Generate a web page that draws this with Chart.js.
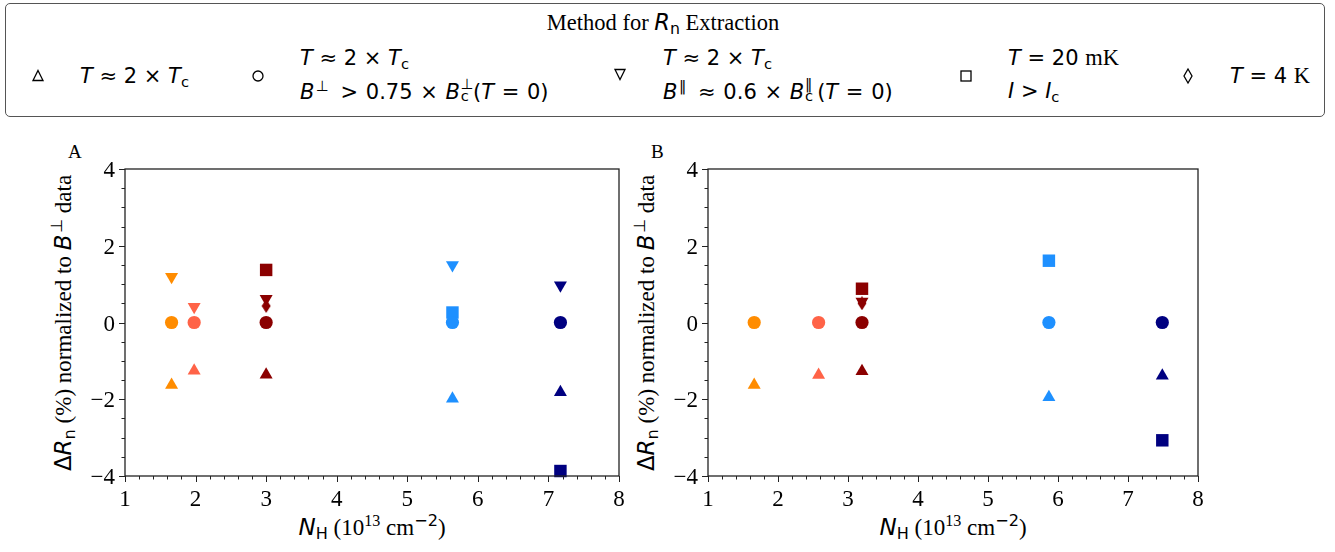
<!DOCTYPE html>
<html>
<head>
<meta charset="utf-8">
<script src="https://cdn.jsdelivr.net/npm/chart.js@4.4.1/dist/chart.umd.min.js"></script>
<style>
  body { margin: 0; background: #fff; }
  #wrap { position: relative; width: 1335px; height: 552px; background: #fff; overflow: hidden; }
  canvas { position: absolute; }
  .serif { font-family: 'Liberation Serif', serif; }
  .m { font-family: 'DejaVu Sans', sans-serif; }
  .m i, i.m { font-style: italic; }
  .lbl { position: absolute; white-space: nowrap; color: #000; }
  .tick { position: absolute; white-space: nowrap; color: #000; font-family: 'Liberation Serif', serif;
          font-size: 23px; line-height: 1; }
  sub, sup { font-size: 70%; line-height: 0; }
  sub { vertical-align: -0.3em; }
  sup { vertical-align: 0.55em; }
  .stack { display: inline-block; position: relative; width: 0.62em; height: 1em; vertical-align: baseline; }
  .stack span { position: absolute; left: 0.05em; font-size: 70%; line-height: 1; }
  .stack .up { bottom: 0.5em; }
  .stack .dn { bottom: -0.32em; }
  #legend { position: absolute; left: 5px; top: 3px; width: 1318px; height: 112px;
            border: 1.3px solid #555; border-radius: 5px; }
  .mk { position: absolute; }
</style>
</head>
<body>
<div id="wrap">
  <div id="legend"></div>
  <div class="lbl serif" style="left:663px; top:22px; transform:translate(-50%,-50%); font-size:22.5px;">
    Method for <span class="m"><i>R</i><sub>n</sub></span> Extraction
  </div>

  <svg class="mk" style="left:30px; top:68px" width="16" height="16"><polygon points="8,2.5 13,12.5 3,12.5" fill="none" stroke="#000" stroke-width="1.3"/></svg>
  <div class="lbl m" style="left:80px; top:76px; transform:translateY(-50%); font-size:21px;"><i>T</i> ≈ 2 × <i>T</i><sub>c</sub></div>

  <svg class="mk" style="left:250px; top:68px" width="16" height="16"><circle cx="8" cy="8" r="5" fill="none" stroke="#000" stroke-width="1.3"/></svg>
  <div class="lbl m" style="left:300px; top:58px; transform:translateY(-50%); font-size:21px;"><i>T</i> ≈ 2 × <i>T</i><sub>c</sub></div>
  <div class="lbl m" style="left:300px; top:91px; transform:translateY(-50%); font-size:21px; word-spacing:1px;"><i>B</i><sup>&#8202;⊥</sup>&#8201; &gt; 0.75 × <i>B</i><span class="stack"><span class="up">⊥</span><span class="dn">c</span></span>(<i>T</i> = 0)</div>

  <svg class="mk" style="left:612px; top:66px" width="16" height="16"><polygon points="3,3.5 13,3.5 8,13.5" fill="none" stroke="#000" stroke-width="1.3"/></svg>
  <div class="lbl m" style="left:663px; top:58px; transform:translateY(-50%); font-size:21px;"><i>T</i> ≈ 2 × <i>T</i><sub>c</sub></div>
  <div class="lbl m" style="left:663px; top:91px; transform:translateY(-50%); font-size:21px; word-spacing:1px;"><i>B</i><sup>&#8202;‖</sup>&#8201; ≈ 0.6 × <i>B</i><span class="stack"><span class="up">‖</span><span class="dn">c</span></span>(<i>T</i> = 0)</div>

  <svg class="mk" style="left:958px; top:68px" width="16" height="16"><rect x="3" y="3" width="10" height="10" fill="none" stroke="#000" stroke-width="1.3"/></svg>
  <div class="lbl m" style="left:1008px; top:58px; transform:translateY(-50%); font-size:21px;"><i>T</i> = 20 <span class="serif" style="font-size:22.5px">mK</span></div>
  <div class="lbl m" style="left:1008px; top:91px; transform:translateY(-50%); font-size:21px;"><i>I</i> &gt; <i>I</i><sub>c</sub></div>

  <svg class="mk" style="left:1180px; top:67px" width="16" height="18"><polygon points="8,2 12,9 8,16 4,9" fill="none" stroke="#000" stroke-width="1.3"/></svg>
  <div class="lbl m" style="left:1230px; top:76px; transform:translateY(-50%); font-size:21px;"><i>T</i> = 4 <span class="serif" style="font-size:22.5px">K</span></div>

  <div class="lbl serif" style="left:68px; top:141px; font-size:19px;">A</div>
  <div class="lbl serif" style="left:651px; top:141px; font-size:19px;">B</div>

  <div class="lbl serif" style="left:63px; top:323px; transform:translate(-50%,-50%) rotate(-90deg); font-size:23px;">
    <span class="m">Δ<i>R</i><sub>n</sub></span> (%) normalized to <span class="m"><i>B</i><sup>&#8202;⊥</sup></span> data
  </div>
  <div class="lbl serif" style="left:646px; top:323px; transform:translate(-50%,-50%) rotate(-90deg); font-size:23px;">
    <span class="m">Δ<i>R</i><sub>n</sub></span> (%) normalized to <span class="m"><i>B</i><sup>&#8202;⊥</sup></span> data
  </div>

  <div class="lbl serif" style="left:372px; top:527px; transform:translate(-50%,-50%); font-size:23px;">
    <span class="m"><i>N</i><sub>H</sub></span> (10<sup>13</sup> cm<sup class="m">−2</sup>)
  </div>
  <div class="lbl serif" style="left:953px; top:527px; transform:translate(-50%,-50%); font-size:23px;">
    <span class="m"><i>N</i><sub>H</sub></span> (10<sup>13</sup> cm<sup class="m">−2</sup>)
  </div>

  <canvas id="chartA" width="640" height="422" style="left:0px; top:130px"></canvas>
  <canvas id="chartB" width="695" height="422" style="left:640px; top:130px"></canvas>
</div>

<script>
// sample colours (same order in both panels)
const colours = ['#FF8C00', '#FF6347', '#8B0000', '#1E90FF', '#000080'];

// panel A
const nhA = [1.66, 1.98, 3.0, 5.64, 7.17];
const upA = [-1.63, -1.26, -1.36, -1.99, -1.82];
const circleA = [0, 0, 0, 0, 0];
const downA = [1.19, 0.41, 0.62, 1.5, 0.97];
const squareA = [null, null, 1.37, 0.26, -3.87];
const diamondA = [null, null, 0.43, null, null];

// panel B
const nhB = [1.66, 2.58, 3.2, 5.87, 7.49];
const upB = [-1.63, -1.37, -1.27, -1.95, -1.39];
const circleB = [0, 0, 0, 0, 0];
const downB = [null, null, 0.55, null, null];
const squareB = [null, null, 0.88, 1.61, -3.07];
const diamondB = [null, null, 0.5, null, null];

const xTicks = [1, 2, 3, 4, 5, 6, 7, 8];
const yTicks = [-4, -2, 0, 2, 4];

// thin diamond marker like matplotlib 'd'
function thinDiamond(color) {
  const c = document.createElement('canvas');
  c.width = 10; c.height = 14;
  const g = c.getContext('2d');
  g.fillStyle = color;
  g.beginPath();
  g.moveTo(5, 0); g.lineTo(9.5, 7); g.lineTo(5, 14); g.lineTo(0.5, 7);
  g.closePath();
  g.fill();
  return c;
}

function makeSet(nh, vals, style, radius, rotation) {
  const pts = [];
  const cols = [];
  vals.forEach((v, i) => {
    if (v === null) return;
    pts.push({x: nh[i], y: v});
    cols.push(colours[i]);
  });
  return {
    data: pts,
    pointStyle: style === 'diamond' ? cols.map(c => thinDiamond(c)) : style,
    pointRadius: radius,
    pointRotation: rotation || 0,
    pointBackgroundColor: cols,
    pointBorderColor: cols,
    pointBorderWidth: 0,
    showLine: false,
    clip: false
  };
}

// box plus major/minor tick marks, placed through the chart's scales
const frame = {
  id: 'frame',
  afterDraw(chart) {
    const {ctx, chartArea: a, scales: {x, y}} = chart;
    ctx.save();
    ctx.strokeStyle = '#222';
    ctx.lineWidth = 1.3;
    ctx.strokeRect(a.left, a.top, a.right - a.left, a.bottom - a.top);
    ctx.lineWidth = 1;
    ctx.beginPath();
    for (let i = 0; i <= 35; i++) {
      const px = Math.round(x.getPixelForValue(1 + i * 0.2)) + 0.5;
      const len = i % 5 === 0 ? 6 : 3.5;
      ctx.moveTo(px, a.bottom);
      ctx.lineTo(px, a.bottom + len);
    }
    for (let i = 0; i <= 16; i++) {
      const py = Math.round(y.getPixelForValue(-4 + i * 0.5)) + 0.5;
      const len = i % 4 === 0 ? 6 : 3.5;
      ctx.moveTo(a.left, py);
      ctx.lineTo(a.left - len, py);
    }
    ctx.stroke();
    ctx.restore();
  }
};

// tick labels as page text, positioned with the chart's own scales
function tickLabels(chart, offX, offY) {
  const wrap = document.getElementById('wrap');
  const {chartArea: a, scales: {x, y}} = chart;
  xTicks.forEach(v => {
    const d = document.createElement('div');
    d.className = 'tick';
    d.textContent = String(v);
    d.style.left = (offX + x.getPixelForValue(v)) + 'px';
    d.style.top = (offY + a.bottom + 22) + 'px';
    d.style.transform = 'translate(-50%, -50%)';
    wrap.appendChild(d);
  });
  yTicks.forEach(v => {
    const d = document.createElement('div');
    d.className = 'tick';
    d.textContent = v < 0 ? '\u2212' + Math.abs(v) : String(v);
    d.style.left = (offX + a.left - 10) + 'px';
    d.style.top = (offY + y.getPixelForValue(v)) + 'px';
    d.style.transform = 'translate(-100%, -50%)';
    wrap.appendChild(d);
  });
}

function makeChart(id, nh, up, circle, down, square, diamond, leftW, rightPad) {
  const sets = [
    makeSet(nh, up, 'triangle', 7.5, 0),
    makeSet(nh, circle, 'circle', 6.6, 0),
    makeSet(nh, down, 'triangle', 7.5, 180),
    makeSet(nh, diamond, 'diamond', 7, 0),
    makeSet(nh, square, 'rect', 8.8, 0)
  ];
  return new Chart(document.getElementById(id).getContext('2d'), {
    type: 'scatter',
    data: {datasets: sets},
    options: {
      responsive: false,
      animation: false,
      layout: {padding: {left: 0, top: 39, right: rightPad, bottom: 0}},
      plugins: {legend: {display: false}, tooltip: {enabled: false}},
      scales: {
        x: {
          type: 'linear', min: 1, max: 8,
          afterFit: s => { s.height = 76; },
          grid: {display: false, drawTicks: false},
          border: {display: false},
          ticks: {display: false}
        },
        y: {
          type: 'linear', min: -4, max: 4,
          afterFit: s => { s.width = leftW; },
          grid: {display: false, drawTicks: false},
          border: {display: false},
          ticks: {display: false}
        }
      }
    },
    plugins: [frame]
  });
}

const chartA = makeChart('chartA', nhA, upA, circleA, downA, squareA, diamondA, 125, 21);
const chartB = makeChart('chartB', nhB, upB, circleB, downB, squareB, diamondB, 68, 137);
tickLabels(chartA, 0, 130);
tickLabels(chartB, 640, 130);
</script>
</body>
</html>
